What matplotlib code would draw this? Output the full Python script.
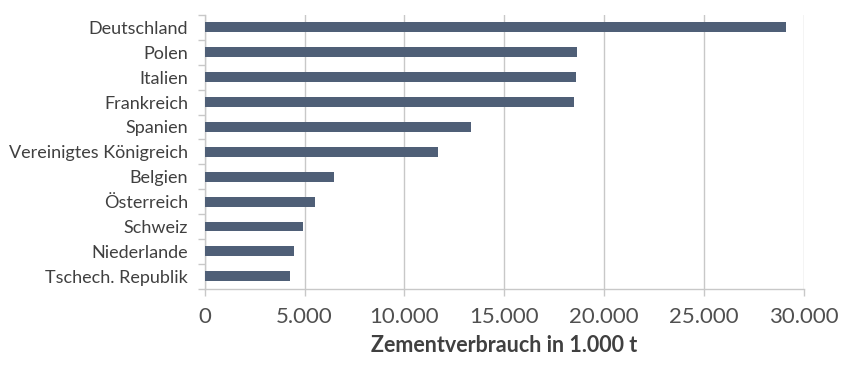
import numpy as np
import matplotlib
matplotlib.use("Agg")
import matplotlib.pyplot as plt
from matplotlib.ticker import FuncFormatter, FixedLocator

# Data: cement consumption in 1,000 t
countries = ["Deutschland", "Polen", "Italien", "Frankreich", "Spanien",
             "Vereinigtes Königreich", "Belgien", "Österreich", "Schweiz",
             "Niederlande", "Tschech. Republik"]
consumption = [29110, 18650, 18610, 18510, 13330, 11690, 6470, 5540, 4910, 4490, 4270]
x_ticks = [0, 5000, 10000, 15000, 20000, 25000, 30000]

plt.rcParams['font.family'] = ['Lato', 'DejaVu Sans']

fig = plt.figure(figsize=(8.56, 3.77), dpi=100)
ax = fig.add_axes([0.2391, 0.2342, 0.7002, 0.7260])

y = np.arange(len(countries))
ax.barh(y, consumption, height=0.4, color="#4f5f77", zorder=3)

ax.set_ylim(len(countries) - 0.5, -0.5)
ax.set_xlim(0, 30000)

# grid and spines
ax.set_xticks(x_ticks)
ax.xaxis.set_major_formatter(FuncFormatter(lambda v, p: f"{int(v):,}".replace(",", ".")))
ax.grid(axis="x", color="#c8c8c8", linewidth=1, zorder=0)
for side in ["top", "right"]:
    ax.spines[side].set_visible(False)
for side in ["left", "bottom"]:
    ax.spines[side].set_color("#c8c8c8")
    ax.spines[side].set_linewidth(1)

ax.set_yticks(y)
ax.set_yticklabels(countries, fontsize=13, color="#404040")
ax.tick_params(axis="y", which="major", length=0, pad=12)
ax.yaxis.set_minor_locator(FixedLocator(np.arange(len(countries) + 1) - 0.5))
ax.tick_params(axis="y", which="minor", length=5, color="#c8c8c8", width=1)
ax.tick_params(axis="x", length=5, color="#c8c8c8", width=1, labelsize=16,
               labelcolor="#505050", pad=8)

ax.set_xlabel("Zementverbrauch in 1.000 t", fontsize=15.5, fontweight="bold",
              color="#404040", labelpad=6)

fig.savefig("out.png", dpi=100)
